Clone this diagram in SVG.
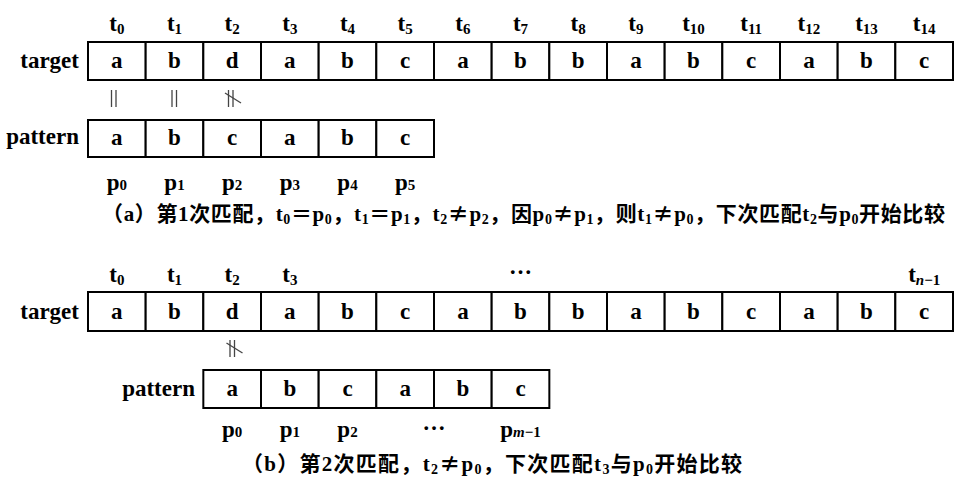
<svg xmlns="http://www.w3.org/2000/svg" width="960" height="490" viewBox="0 0 960 490">
<style>
.cell{fill:#fff;stroke:#000;stroke-width:2}
.t{font-family:"Liberation Serif","Times New Roman",serif;font-weight:bold;font-size:23px;fill:#000;text-anchor:middle}
.lbl{font-family:"Liberation Serif","Times New Roman",serif;font-weight:bold;font-size:23px;fill:#000;text-anchor:end}
.sub{font-size:15px}
.cap{font-family:"Liberation Serif","Noto Sans CJK SC",serif;font-weight:bold;font-size:21px;fill:#000}
.cs{font-size:14px}
.ne{font-family:"Noto Sans CJK SC",sans-serif}
.rel{stroke:#444;stroke-width:1.3;fill:none}
</style>
<rect width="960" height="490" fill="#fff"/>

<!-- ===== Part (a) ===== -->
<g id="a-target-label"><text class="lbl" x="79" y="68">target</text></g>
<g id="a-pattern-label"><text class="lbl" x="79" y="144">pattern</text></g>

<g id="a-tindex">
<text class="t" x="116.8" y="31">t<tspan class="sub" dy="3">0</tspan></text>
<text class="t" x="174.5" y="31">t<tspan class="sub" dy="3">1</tspan></text>
<text class="t" x="232.2" y="31">t<tspan class="sub" dy="3">2</tspan></text>
<text class="t" x="289.8" y="31">t<tspan class="sub" dy="3">3</tspan></text>
<text class="t" x="347.5" y="31">t<tspan class="sub" dy="3">4</tspan></text>
<text class="t" x="405.2" y="31">t<tspan class="sub" dy="3">5</tspan></text>
<text class="t" x="462.9" y="31">t<tspan class="sub" dy="3">6</tspan></text>
<text class="t" x="520.5" y="31">t<tspan class="sub" dy="3">7</tspan></text>
<text class="t" x="578.2" y="31">t<tspan class="sub" dy="3">8</tspan></text>
<text class="t" x="635.9" y="31">t<tspan class="sub" dy="3">9</tspan></text>
<text class="t" x="693.5" y="31">t<tspan class="sub" dy="3">10</tspan></text>
<text class="t" x="751.2" y="31">t<tspan class="sub" dy="3">11</tspan></text>
<text class="t" x="808.9" y="31">t<tspan class="sub" dy="3">12</tspan></text>
<text class="t" x="866.5" y="31">t<tspan class="sub" dy="3">13</tspan></text>
<text class="t" x="924.2" y="31">t<tspan class="sub" dy="3">14</tspan></text>
</g>

<g id="a-target">
<g id="a-t0"><rect class="cell" x="88" y="42" width="57.67" height="38"/><text class="t" x="116.8" y="68">a</text></g>
<g id="a-t1"><rect class="cell" x="145.67" y="42" width="57.67" height="38"/><text class="t" x="174.5" y="68">b</text></g>
<g id="a-t2"><rect class="cell" x="203.33" y="42" width="57.67" height="38"/><text class="t" x="232.2" y="68">d</text></g>
<g id="a-t3"><rect class="cell" x="261" y="42" width="57.67" height="38"/><text class="t" x="289.8" y="68">a</text></g>
<g id="a-t4"><rect class="cell" x="318.67" y="42" width="57.67" height="38"/><text class="t" x="347.5" y="68">b</text></g>
<g id="a-t5"><rect class="cell" x="376.33" y="42" width="57.67" height="38"/><text class="t" x="405.2" y="68">c</text></g>
<g id="a-t6"><rect class="cell" x="434" y="42" width="57.67" height="38"/><text class="t" x="462.9" y="68">a</text></g>
<g id="a-t7"><rect class="cell" x="491.67" y="42" width="57.67" height="38"/><text class="t" x="520.5" y="68">b</text></g>
<g id="a-t8"><rect class="cell" x="549.33" y="42" width="57.67" height="38"/><text class="t" x="578.2" y="68">b</text></g>
<g id="a-t9"><rect class="cell" x="607" y="42" width="57.67" height="38"/><text class="t" x="635.9" y="68">a</text></g>
<g id="a-t10"><rect class="cell" x="664.67" y="42" width="57.67" height="38"/><text class="t" x="693.5" y="68">b</text></g>
<g id="a-t11"><rect class="cell" x="722.33" y="42" width="57.67" height="38"/><text class="t" x="751.2" y="68">c</text></g>
<g id="a-t12"><rect class="cell" x="780" y="42" width="57.67" height="38"/><text class="t" x="808.9" y="68">a</text></g>
<g id="a-t13"><rect class="cell" x="837.67" y="42" width="57.67" height="38"/><text class="t" x="866.5" y="68">b</text></g>
<g id="a-t14"><rect class="cell" x="895.33" y="42" width="57.67" height="38"/><text class="t" x="924.2" y="68">c</text></g>
</g>

<g id="a-pattern">
<g id="a-p0"><rect class="cell" x="88" y="120" width="57.67" height="37"/><text class="t" x="116.8" y="145">a</text></g>
<g id="a-p1"><rect class="cell" x="145.67" y="120" width="57.67" height="37"/><text class="t" x="174.5" y="145">b</text></g>
<g id="a-p2"><rect class="cell" x="203.33" y="120" width="57.67" height="37"/><text class="t" x="232.2" y="145">c</text></g>
<g id="a-p3"><rect class="cell" x="261" y="120" width="57.67" height="37"/><text class="t" x="289.8" y="145">a</text></g>
<g id="a-p4"><rect class="cell" x="318.67" y="120" width="57.67" height="37"/><text class="t" x="347.5" y="145">b</text></g>
<g id="a-p5"><rect class="cell" x="376.33" y="120" width="57.67" height="37"/><text class="t" x="405.2" y="145">c</text></g>
</g>

<g id="a-pindex">
<text class="t" x="116.8" y="190">p<tspan class="sub">0</tspan></text>
<text class="t" x="174.5" y="190">p<tspan class="sub">1</tspan></text>
<text class="t" x="232.2" y="190">p<tspan class="sub">2</tspan></text>
<text class="t" x="289.8" y="190">p<tspan class="sub">3</tspan></text>
<text class="t" x="347.5" y="190">p<tspan class="sub">4</tspan></text>
<text class="t" x="405.2" y="190">p<tspan class="sub">5</tspan></text>
</g>

<g id="connectors">
<line class="rel" x1="111.5" y1="90" x2="111.5" y2="107"/>
<line class="rel" x1="116" y1="90" x2="116" y2="107"/>
<line class="rel" x1="172" y1="90" x2="172" y2="107"/>
<line class="rel" x1="176.5" y1="90" x2="176.5" y2="107"/>
<line class="rel" x1="228.5" y1="90" x2="228.5" y2="107"/>
<line class="rel" x1="233" y1="90" x2="233" y2="107"/>
<line class="rel" x1="225" y1="93" x2="241" y2="103" stroke="#000"/>
<line class="rel" x1="230" y1="340" x2="230" y2="357"/>
<line class="rel" x1="234.5" y1="340" x2="234.5" y2="357"/>
<line class="rel" x1="226.5" y1="343" x2="242.5" y2="353" stroke="#000"/>
</g>

<g id="a-caption">
<text class="cap" x="102" y="221" textLength="843" lengthAdjust="spacing">（a）第1次匹配，t<tspan class="cs" dy="3">0</tspan><tspan dy="-3">＝p</tspan><tspan class="cs" dy="3">0</tspan><tspan dy="-3">，t</tspan><tspan class="cs" dy="3">1</tspan><tspan dy="-3">＝p</tspan><tspan class="cs" dy="3">1</tspan><tspan dy="-3">，t</tspan><tspan class="cs" dy="3">2</tspan><tspan dy="-3" class="ne">≠</tspan><tspan>p</tspan><tspan class="cs" dy="3">2</tspan><tspan dy="-3">，因p</tspan><tspan class="cs" dy="3">0</tspan><tspan dy="-3" class="ne">≠</tspan><tspan>p</tspan><tspan class="cs" dy="3">1</tspan><tspan dy="-3">，则t</tspan><tspan class="cs" dy="3">1</tspan><tspan dy="-3" class="ne">≠</tspan><tspan>p</tspan><tspan class="cs" dy="3">0</tspan><tspan dy="-3">，下次匹配t</tspan><tspan class="cs" dy="3">2</tspan><tspan dy="-3">与p</tspan><tspan class="cs" dy="3">0</tspan><tspan dy="-3">开始比较</tspan></text>
</g>

<!-- ===== Part (b) ===== -->
<g id="b-target-label"><text class="lbl" x="79" y="319">target</text></g>
<g id="b-pattern-label"><text class="lbl" x="195" y="396">pattern</text></g>

<g id="b-tindex">
<text class="t" x="116.8" y="282">t<tspan class="sub" dy="3">0</tspan></text>
<text class="t" x="174.5" y="282">t<tspan class="sub" dy="3">1</tspan></text>
<text class="t" x="232.2" y="282">t<tspan class="sub" dy="3">2</tspan></text>
<text class="t" x="289.8" y="282">t<tspan class="sub" dy="3">3</tspan></text>
<text class="t" x="520.5" y="274">…</text>
<text class="t" x="924.2" y="282">t<tspan class="sub" dy="3" font-style="italic">n</tspan><tspan class="sub">−1</tspan></text>
</g>

<g id="b-target">
<g id="b-t0"><rect class="cell" x="88" y="292" width="57.67" height="39"/><text class="t" x="116.8" y="319">a</text></g>
<g id="b-t1"><rect class="cell" x="145.67" y="292" width="57.67" height="39"/><text class="t" x="174.5" y="319">b</text></g>
<g id="b-t2"><rect class="cell" x="203.33" y="292" width="57.67" height="39"/><text class="t" x="232.2" y="319">d</text></g>
<g id="b-t3"><rect class="cell" x="261" y="292" width="57.67" height="39"/><text class="t" x="289.8" y="319">a</text></g>
<g id="b-t4"><rect class="cell" x="318.67" y="292" width="57.67" height="39"/><text class="t" x="347.5" y="319">b</text></g>
<g id="b-t5"><rect class="cell" x="376.33" y="292" width="57.67" height="39"/><text class="t" x="405.2" y="319">c</text></g>
<g id="b-t6"><rect class="cell" x="434" y="292" width="57.67" height="39"/><text class="t" x="462.9" y="319">a</text></g>
<g id="b-t7"><rect class="cell" x="491.67" y="292" width="57.67" height="39"/><text class="t" x="520.5" y="319">b</text></g>
<g id="b-t8"><rect class="cell" x="549.33" y="292" width="57.67" height="39"/><text class="t" x="578.2" y="319">b</text></g>
<g id="b-t9"><rect class="cell" x="607" y="292" width="57.67" height="39"/><text class="t" x="635.9" y="319">a</text></g>
<g id="b-t10"><rect class="cell" x="664.67" y="292" width="57.67" height="39"/><text class="t" x="693.5" y="319">b</text></g>
<g id="b-t11"><rect class="cell" x="722.33" y="292" width="57.67" height="39"/><text class="t" x="751.2" y="319">c</text></g>
<g id="b-t12"><rect class="cell" x="780" y="292" width="57.67" height="39"/><text class="t" x="808.9" y="319">a</text></g>
<g id="b-t13"><rect class="cell" x="837.67" y="292" width="57.67" height="39"/><text class="t" x="866.5" y="319">b</text></g>
<g id="b-t14"><rect class="cell" x="895.33" y="292" width="57.67" height="39"/><text class="t" x="924.2" y="319">c</text></g>
</g>

<g id="b-pattern">
<g id="b-p0"><rect class="cell" x="203.33" y="370" width="57.67" height="38"/><text class="t" x="232.2" y="396">a</text></g>
<g id="b-p1"><rect class="cell" x="261" y="370" width="57.67" height="38"/><text class="t" x="289.8" y="396">b</text></g>
<g id="b-p2"><rect class="cell" x="318.67" y="370" width="57.67" height="38"/><text class="t" x="347.5" y="396">c</text></g>
<g id="b-p3"><rect class="cell" x="376.33" y="370" width="57.67" height="38"/><text class="t" x="405.2" y="396">a</text></g>
<g id="b-p4"><rect class="cell" x="434" y="370" width="57.67" height="38"/><text class="t" x="462.9" y="396">b</text></g>
<g id="b-p5"><rect class="cell" x="491.67" y="370" width="57.67" height="38"/><text class="t" x="520.5" y="396">c</text></g>
</g>

<g id="b-pindex">
<text class="t" x="232.2" y="437">p<tspan class="sub">0</tspan></text>
<text class="t" x="289.8" y="437">p<tspan class="sub">1</tspan></text>
<text class="t" x="347.5" y="437">p<tspan class="sub">2</tspan></text>
<text class="t" x="434" y="430">…</text>
<text class="t" x="520.5" y="437">p<tspan class="sub" font-style="italic">m</tspan><tspan class="sub">−1</tspan></text>
</g>

<g id="b-caption">
<text class="cap" x="242" y="471" textLength="500" lengthAdjust="spacing">（b）第2次匹配，t<tspan class="cs" dy="3">2</tspan><tspan dy="-3" class="ne">≠</tspan><tspan>p</tspan><tspan class="cs" dy="3">0</tspan><tspan dy="-3">，下次匹配t</tspan><tspan class="cs" dy="3">3</tspan><tspan dy="-3">与p</tspan><tspan class="cs" dy="3">0</tspan><tspan dy="-3">开始比较</tspan></text>
</g>
</svg>
